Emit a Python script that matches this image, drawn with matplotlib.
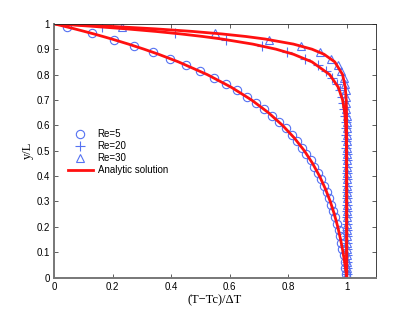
import matplotlib
matplotlib.use('Agg')
import matplotlib.pyplot as plt

# cell-centre positions of the numerical results
y_num = [0.9875, 0.9625, 0.9375, 0.9125, 0.8875, 0.8625, 0.8375, 0.8125,
         0.7875, 0.7625, 0.7375, 0.7125, 0.6875, 0.6625, 0.6375, 0.6125,
         0.5875, 0.5625, 0.5375, 0.5125, 0.4875, 0.4625, 0.4375, 0.4125,
         0.3875, 0.3625, 0.3375, 0.3125, 0.2875, 0.2625, 0.2375, 0.2125,
         0.1875, 0.1625, 0.1375, 0.1125, 0.0875, 0.0625, 0.0375, 0.0125]

t_re5 = [0.0447, 0.1283, 0.2049, 0.2749, 0.3390, 0.3976, 0.4513, 0.5004,
         0.5454, 0.5865, 0.6241, 0.6585, 0.6901, 0.7189, 0.7453, 0.7694,
         0.7915, 0.8117, 0.8302, 0.8471, 0.8626, 0.8768, 0.8898, 0.9017,
         0.9125, 0.9225, 0.9316, 0.9399, 0.9475, 0.9545, 0.9608, 0.9667,
         0.9720, 0.9769, 0.9814, 0.9855, 0.9892, 0.9926, 0.9958, 0.9986]

t_re20 = [0.1626, 0.4129, 0.5883, 0.7114, 0.7976, 0.8581, 0.9005, 0.9302,
          0.9511, 0.9657, 0.9760, 0.9831, 0.9882, 0.9917, 0.9942, 0.9959,
          0.9971, 0.9980, 0.9986, 0.9990, 0.9993, 0.9995, 0.9997, 0.9998,
          0.9998, 0.9999, 0.9999, 1.0, 1.0, 1.0, 1.0, 1.0,
          1.0, 1.0, 1.0, 1.0, 1.0, 1.0, 1.0, 1.0]

t_re30 = [0.2337, 0.5501, 0.7359, 0.8449, 0.9089, 0.9465, 0.9686, 0.9816,
          0.9892, 0.9936, 0.9963, 0.9978, 0.9987, 0.9992, 0.9996, 0.9997,
          0.9999, 1.0, 1.0, 1.0, 1.0, 1.0, 1.0, 1.0,
          1.0, 1.0, 1.0, 1.0, 1.0, 1.0, 1.0, 1.0,
          1.0, 1.0, 1.0, 1.0, 1.0, 1.0, 1.0, 1.0]

# analytic profiles
y_an = [1.0, 0.995, 0.99, 0.98, 0.97, 0.96, 0.95, 0.94, 0.92, 0.90, 0.88,
        0.85, 0.80, 0.75, 0.70, 0.65, 0.60, 0.55, 0.50, 0.45, 0.40, 0.35,
        0.30, 0.25, 0.20, 0.15, 0.10, 0.05, 0.0]
an_re5 = [0.0, 0.0181, 0.0359, 0.0706, 0.1040, 0.1363, 0.1674, 0.1975,
          0.2545, 0.3076, 0.3572, 0.4251, 0.5234, 0.6057, 0.6747, 0.7324,
          0.7807, 0.8212, 0.8551, 0.8834, 0.9072, 0.9271, 0.9438, 0.9577,
          0.9694, 0.9792, 0.9874, 0.9943, 1.0]
an_re20 = [0.0, 0.0685, 0.1324, 0.2472, 0.3469, 0.4333, 0.5084, 0.5734,
           0.6789, 0.7583, 0.8180, 0.8812, 0.9416, 0.9713, 0.9859, 0.9931,
           0.9966, 0.9983, 0.9992, 0.9996, 0.9998, 0.9999, 1.0, 1.0,
           1.0, 1.0, 1.0, 1.0, 1.0]
an_re30 = [0.0, 0.1010, 0.1919, 0.3469, 0.4722, 0.5734, 0.6553, 0.7214,
           0.8180, 0.8812, 0.9224, 0.9591, 0.9859, 0.9951, 0.9983, 0.9994,
           0.9998, 0.9999, 1.0, 1.0, 1.0, 1.0, 1.0, 1.0,
           1.0, 1.0, 1.0, 1.0, 1.0]

xticks = [0, 0.2, 0.4, 0.6, 0.8, 1]
yticks = [0, 0.1, 0.2, 0.3, 0.4, 0.5, 0.6, 0.7, 0.8, 0.9, 1]

blue = '#5572f2'
red = '#ff1010'
plt.rcParams['font.family'] = ['Liberation Sans', 'DejaVu Sans']

fig = plt.figure(figsize=(4.15, 3.13), dpi=100)
ax = fig.add_axes([0.13, 0.113, 0.776, 0.811])

ax.plot(t_re5, y_num, 'o', mfc='none', mec=blue, ms=6, mew=0.8, label='Re=5')
ax.plot(t_re20, y_num, '+', color=blue, ms=7, mew=0.8, label='Re=20')
ax.plot(t_re30, y_num, '^', mfc='none', mec=blue, ms=6, mew=0.8, label='Re=30')
ax.plot(an_re5, y_an, color=red, lw=2, label='Analytic solution')
ax.plot(an_re20, y_an, color=red, lw=2)
ax.plot(an_re30, y_an, color=red, lw=2)

ax.set_xlim(0, 1.1)
ax.set_ylim(0, 1)
ax.set_xticks(xticks)
ax.set_yticks(yticks)
ax.set_xticklabels(['0', '0.2', '0.4', '0.6', '0.8', '1'])
ax.set_yticklabels(['0', '0.1', '0.2', '0.3', '0.4', '0.5', '0.6', '0.7', '0.8', '0.9', '1'])
ax.tick_params(direction='in', top=True, right=True, labelsize=7, length=3,
               width=0.6, color='#444444', pad=3)

for s in ['left', 'bottom']:
    ax.spines[s].set_color('#777777')
    ax.spines[s].set_linewidth(1.4)
for s in ['top', 'right']:
    ax.spines[s].set_color('#222222')
    ax.spines[s].set_linewidth(0.6)

ax.set_xlabel('(T\u2212Tc)/\u0394T', family='Liberation Serif', fontsize=9, labelpad=2)
ax.set_ylabel('y/L', family='Liberation Serif', fontsize=9, labelpad=2)

ax.legend(loc='upper left', bbox_to_anchor=(0.03, 0.6), frameon=False, fontsize=7,
          handlelength=2.6, handletextpad=0.5, labelspacing=0.2, borderaxespad=0)

fig.savefig('out.png', dpi=100)
